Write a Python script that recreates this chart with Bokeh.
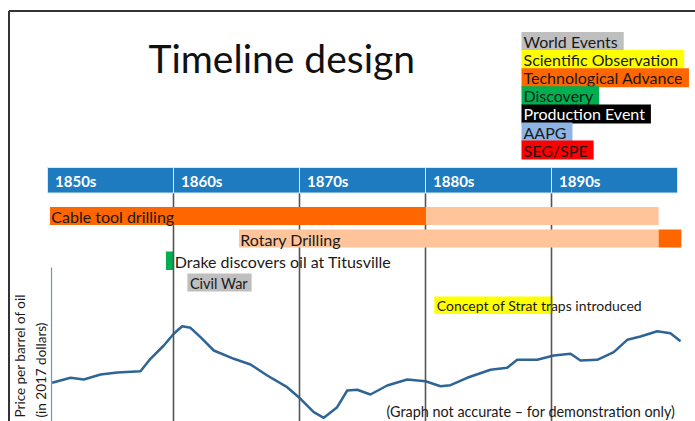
import math
from bokeh.plotting import figure
from bokeh.models import Range1d, Label
from bokeh.core.properties import value
from bokeh.embed import file_html
from bokeh.resources import INLINE

# ---------------- data ----------------
title_text = "Timeline design"

decades = ["1850s", "1860s", "1870s", "1880s", "1890s"]
decade_start = [1850, 1860, 1870, 1880, 1890]
decade_end = [1860, 1870, 1880, 1890, 1900]

legend_labels = ["World Events", "Scientific Observation", "Technological Advance",
                 "Discovery", "Production Event", "AAPG", "SEG/SPE"]
legend_colors = ["#BFBFBF", "#FFFF00", "#FF6600", "#00B050", "#000000", "#8DB4E2", "#FF0000"]
legend_text_colors = ["#1a1a1a", "#1a1a1a", "#1a1a1a", "#1a1a1a", "#ffffff", "#1a1a1a", "#1a1a1a"]

tech_names = ["Cable tool drilling", "Rotary Drilling"]
tech_main_start = [1850.2, 1898.5]
tech_main_end = [1880.0, 1900.3]
tech_minor_start = [1880.0, 1865.2]
tech_minor_end = [1898.5, 1898.5]

event_names = ["Drake discovers oil at Titusville", "Civil War", "Concept of Strat traps introduced"]
event_start = [1859.4, 1861.1, 1880.7]
event_end = [1860.0, 1866.2, 1890.1]
event_colors = ["#00B050", "#BFBFBF", "#FFFF00"]
event_label_after_box = [True, False, False]

price_years = [1850.37, 1851.83, 1852.88, 1854.21, 1855.53, 1857.38, 1858.17, 1859.23,
               1860.02, 1860.69, 1861.35, 1862.14, 1863.20, 1864.79, 1866.11, 1867.44,
               1869.02, 1870.08, 1871.13, 1871.93, 1872.99, 1873.79, 1874.58, 1875.63,
               1876.96, 1878.55, 1880.00, 1881.19, 1881.98, 1883.31, 1885.16, 1886.48,
               1887.28, 1888.87, 1890.18, 1891.51, 1892.30, 1893.63, 1894.94, 1896.01,
               1897.06, 1898.39, 1899.44, 1900.24]
price_values = [38.7, 43.7, 42.0, 47.0, 49.0, 50.3, 62.7, 76.0,
                87.7, 95.3, 93.7, 84.3, 71.0, 62.7, 57.0, 46.0,
                34.3, 22.7, 9.3, 3.7, 14.3, 31.0, 31.7, 27.0,
                36.0, 42.0, 40.3, 35.3, 36.3, 43.7, 51.7, 53.7,
                61.7, 61.7, 66.0, 67.7, 61.0, 61.7, 69.3, 81.7,
                85.0, 90.3, 88.3, 80.3]
price_axis_top = 154

y_label_lines = ["Price per barrel of oil", "(in 2017 dollars)"]
note_text = "(Graph not accurate \u2013 for demonstration only)"

# ---------------- layout ----------------
W, H = 695, 421
PX_PER_YEAR = 12.6
x_start = decade_start[0] - 47 / PX_PER_YEAR
x_end = x_start + W / PX_PER_YEAR
FONT = "Lato"
TXT = "#1a1a1a"

p = figure(width=W, height=H, output_backend="svg", toolbar_location=None,
           x_range=Range1d(x_start, x_end), y_range=Range1d(H, 0),
           min_border=0, min_border_left=0, min_border_right=0,
           min_border_top=0, min_border_bottom=0)
p.axis.visible = False
p.grid.visible = False
p.outline_line_color = None
p.background_fill_color = "white"
p.extra_y_ranges = {"price": Range1d(0, H)}

# rows (pixel rows from top)
HEAD_T, HEAD_B = 167, 192.5
tech_rows = [(206.5, 224.5), (229, 247)]
event_rows = [(251, 269.5), (273, 291), (296, 313.5)]
event_font_sizes = ["16px", "14.5px", "14px"]

# frame lines (slide border)
frame_x = x_start + 8.5 / PX_PER_YEAR
p.segment(x0=[frame_x, frame_x], x1=[x_end, frame_x], y0=[10.5, 10.5], y1=[10.5, H],
          line_color="#333333", line_width=2)

# events
for i, name in enumerate(event_names):
    t, b = event_rows[i]
    p.quad(left=[event_start[i]], right=[event_end[i]], top=[t], bottom=[b],
           fill_color=event_colors[i], line_color=None)
    tx = event_end[i] + 0.1 if event_label_after_box[i] else event_start[i] + 0.2
    p.text(x=[tx], y=[(t + b) / 2 + 0.5], text=[name], text_font=value(FONT),
           text_font_size=event_font_sizes[i], text_color=TXT,
           text_baseline="middle", text_align="left")

# price curve and axis
p.segment(x0=[price_years[0] - 0.05], x1=[price_years[0] - 0.05], y0=[0], y1=[price_axis_top],
          y_range_name="price", line_color="#5B9BD5", line_width=1.2)
p.line(price_years, price_values, y_range_name="price", line_color="#2E6496", line_width=2.5,
       line_join="round")

# decade dividers
p.segment(x0=decade_start[1:], x1=decade_start[1:], y0=[HEAD_B] * 4, y1=[H] * 4,
          line_color="#555555", line_width=1.6)

# technology bars
for i, name in enumerate(tech_names):
    t, b = tech_rows[i]
    p.quad(left=[tech_minor_start[i]], right=[tech_minor_end[i]], top=[t], bottom=[b],
           fill_color="#FFC499", line_color=None)
    p.quad(left=[tech_main_start[i]], right=[tech_main_end[i]], top=[t], bottom=[b],
           fill_color="#FF6600", line_color=None)
    tx = min(tech_main_start[i], tech_minor_start[i]) + 0.1
    p.text(x=[tx], y=[(t + b) / 2 + 0.5], text=[name], text_font=value(FONT),
           text_font_size="16px", text_color=TXT, text_baseline="middle", text_align="left")

# decade header
p.quad(left=decade_start, right=decade_end, top=[HEAD_T] * 5, bottom=[HEAD_B] * 5,
       fill_color="#1F7BBF", line_color="#DCE9F5", line_width=1)
p.text(x=[d + 0.6 for d in decade_start], y=[(HEAD_T + HEAD_B) / 2 + 0.5] * 5, text=decades,
       text_font=value(FONT), text_font_style="bold", text_font_size="15px",
       text_color="white", text_baseline="middle", text_align="left")

def sy(py):
    return H - py

# title
p.add_layout(Label(x=148, y=sy(57), x_units="screen", y_units="screen", text=title_text,
                   text_font=FONT, text_font_size="39px", text_color="#111111",
                   text_baseline="alphabetic", text_align="left"))

# legend
for i, lab in enumerate(legend_labels):
    p.add_layout(Label(x=521, y=sy(41 + 18.1 * i), x_units="screen", y_units="screen",
                       text=lab, text_font=FONT, text_font_size="16px",
                       text_color=legend_text_colors[i], text_baseline="middle",
                       text_align="left", background_fill_color=legend_colors[i],
                       padding=dict(left=2, right=6, top=0, bottom=0)))

# y label
for i, line in enumerate(y_label_lines):
    p.add_layout(Label(x=19 + 21 * i, y=sy(417), x_units="screen", y_units="screen",
                       text=line, angle=math.pi / 2, text_font=FONT, text_font_size="13.5px",
                       text_color=TXT, text_baseline="middle", text_align="left"))

# note
p.add_layout(Label(x=386, y=sy(411), x_units="screen", y_units="screen", text=note_text,
                   text_font=FONT, text_font_size="14.4px", text_color=TXT,
                   text_baseline="middle", text_align="left"))

open("out.html", "w").write(file_html(p, INLINE))
